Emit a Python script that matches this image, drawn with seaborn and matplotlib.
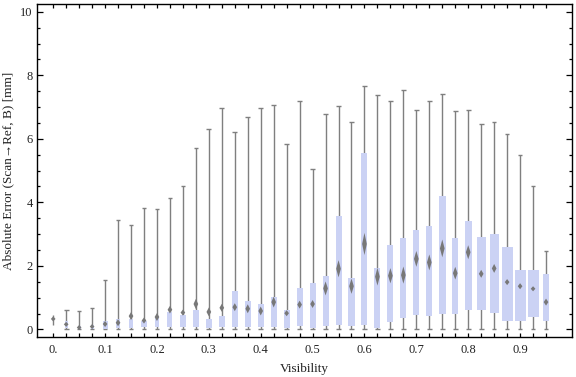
import numpy as np
import seaborn as sns
import matplotlib
matplotlib.use("Agg")
import matplotlib.pyplot as plt
from matplotlib.ticker import MultipleLocator

# visibility bins
vis = [0.0, 0.025, 0.05, 0.075, 0.1, 0.125, 0.15, 0.175, 0.2, 0.225,
       0.25, 0.275, 0.3, 0.325, 0.35, 0.375, 0.4, 0.425, 0.45, 0.475,
       0.5, 0.525, 0.55, 0.575, 0.6, 0.625, 0.65, 0.675, 0.7, 0.725,
       0.75, 0.775, 0.8, 0.825, 0.85, 0.875, 0.9, 0.925, 0.95]

# whisker ends
w_lo = [0.13, 0.0, 0.0, 0.0, 0.0, 0.0, 0.0, 0.0, 0.0, 0.0,
        0.0, 0.0, 0.0, 0.0, 0.0, 0.0, 0.0, 0.0, 0.0, 0.0,
        0.0, 0.0, 0.0, 0.0, 0.0, 0.0, 0.0, 0.0, 0.0, 0.0,
        0.0, 0.0, 0.0, 0.0, 0.0, 0.0, 0.0, 0.0, 0.0]
w_hi = [0.46, 0.60, 0.57, 0.68, 1.57, 3.44, 3.30, 3.82, 3.78, 4.15,
        4.52, 5.70, 6.30, 6.96, 6.20, 6.68, 6.96, 7.06, 5.83, 7.18,
        5.05, 6.78, 7.02, 6.52, 7.67, 7.38, 7.18, 7.53, 6.90, 7.18,
        7.40, 6.87, 6.90, 6.46, 6.52, 6.14, 5.48, 4.53, 2.48]

# quartiles
q1 = [0.30, 0.04, 0.02, 0.01, 0.02, 0.03, 0.04, 0.09, 0.09, 0.07,
      0.07, 0.07, 0.05, 0.07, 0.07, 0.07, 0.07, 0.07, 0.04, 0.10,
      0.06, 0.10, 0.14, 0.10, 0.14, 0.06, 0.22, 0.35, 0.44, 0.42,
      0.48, 0.48, 0.60, 0.61, 0.51, 0.28, 0.25, 0.38, 0.25]
q3 = [0.36, 0.25, 0.11, 0.14, 0.25, 0.32, 0.32, 0.28, 0.37, 0.55,
      0.44, 0.60, 0.32, 0.41, 1.20, 0.88, 0.79, 1.01, 0.60, 1.29,
      1.45, 1.67, 3.56, 1.61, 5.55, 1.92, 2.65, 2.87, 3.12, 3.25,
      4.20, 2.87, 3.41, 2.90, 3.00, 2.59, 1.86, 1.86, 1.73]

# mean and its confidence half-height (diamonds)
mean = [0.33, 0.16, 0.06, 0.09, 0.17, 0.21, 0.42, 0.28, 0.39, 0.62,
        0.53, 0.80, 0.55, 0.68, 0.70, 0.65, 0.58, 0.86, 0.51, 0.78,
        0.80, 1.29, 1.91, 1.36, 2.69, 1.66, 1.69, 1.71, 2.22, 2.11,
        2.55, 1.77, 2.43, 1.75, 1.92, 1.49, 1.36, 1.28, 0.86]
ci = [0.08, 0.08, 0.08, 0.08, 0.095, 0.11, 0.125, 0.095, 0.125, 0.12,
      0.095, 0.16, 0.14, 0.125, 0.125, 0.14, 0.14, 0.17, 0.095, 0.125,
      0.125, 0.22, 0.27, 0.24, 0.35, 0.28, 0.24, 0.27, 0.25, 0.25,
      0.28, 0.20, 0.22, 0.125, 0.14, 0.095, 0.095, 0.08, 0.11]

# box widths (sample size dependent)
box_w = [0.003, 0.0058, 0.0058, 0.0058, 0.0097, 0.0077, 0.0077, 0.0097, 0.0077, 0.0097,
         0.0106, 0.0116, 0.0116, 0.0116, 0.0116, 0.0116, 0.0116, 0.0116, 0.0116, 0.0116,
         0.0116, 0.0116, 0.0116, 0.0116, 0.0116, 0.0116, 0.0116, 0.0116, 0.0116, 0.0116,
         0.0135, 0.0116, 0.0135, 0.0174, 0.0174, 0.0212, 0.0212, 0.0212, 0.0116]

sns.set_theme(style="ticks")
plt.rcParams["font.family"] = ["Liberation Serif", "DejaVu Serif"]

vis = np.array(vis)
fig = plt.figure(figsize=(5.76, 3.77), dpi=100)
ax = fig.add_axes([0.064, 0.106, 0.929, 0.883])

# whiskers + caps
ax.vlines(vis, w_lo, w_hi, color="#7f7f7f", lw=1.0, zorder=1)
ax.hlines(w_hi[1:], vis[1:] - 0.0045, vis[1:] + 0.0045, color="#7f7f7f", lw=1.0, zorder=1)
ax.hlines(w_lo[1:], vis[1:] - 0.0045, vis[1:] + 0.0045, color="#7f7f7f", lw=1.0, zorder=1)

# boxes
ax.bar(vis, np.array(q3) - np.array(q1), bottom=q1, width=box_w,
       color="#cbd2f4", edgecolor="none", zorder=2)

# mean diamonds
for x, m, h in zip(vis, mean, ci):
    hw = 0.0045
    ax.fill([x, x + hw, x, x - hw], [m + h, m, m - h, m],
            color="#787878", lw=0, zorder=3)

ax.set_xlim(-0.0315, 1.0)
ax.set_ylim(-0.24, 10.24)

labels = {0: "0.", 4: "0.1", 8: "0.2", 12: "0.3", 16: "0.4",
          20: "0.5", 24: "0.6", 28: "0.7", 32: "0.8", 36: "0.9"}
ax.set_xticks(vis)
ax.set_xticklabels([labels.get(i, "") for i in range(len(vis))])
ax.set_yticks([0, 2, 4, 6, 8, 10])
ax.set_yticklabels(["0", "2", "4", "6", "8", "10"])
ax.yaxis.set_minor_locator(MultipleLocator(0.5))

ax.tick_params(axis="both", which="major", direction="in", top=True, right=True,
               color="black", labelsize=9, labelcolor="#222222", width=0.9)
ax.tick_params(axis="x", which="major", length=3, pad=5)
ax.tick_params(axis="y", which="major", length=4.3, pad=3)
ax.tick_params(axis="y", which="minor", direction="in", right=True,
               length=2.2, width=0.9, color="black")

for s in ax.spines.values():
    s.set_color("black")
    s.set_linewidth(1.0)

ax.set_xlabel("Visibility", fontsize=9.5, color="#222222", labelpad=5)
ax.set_ylabel("Absolute Error (Scan\u2192Ref, B) [mm]", fontsize=9.5,
              color="#222222", labelpad=4)

fig.savefig("out.png", dpi=100)
